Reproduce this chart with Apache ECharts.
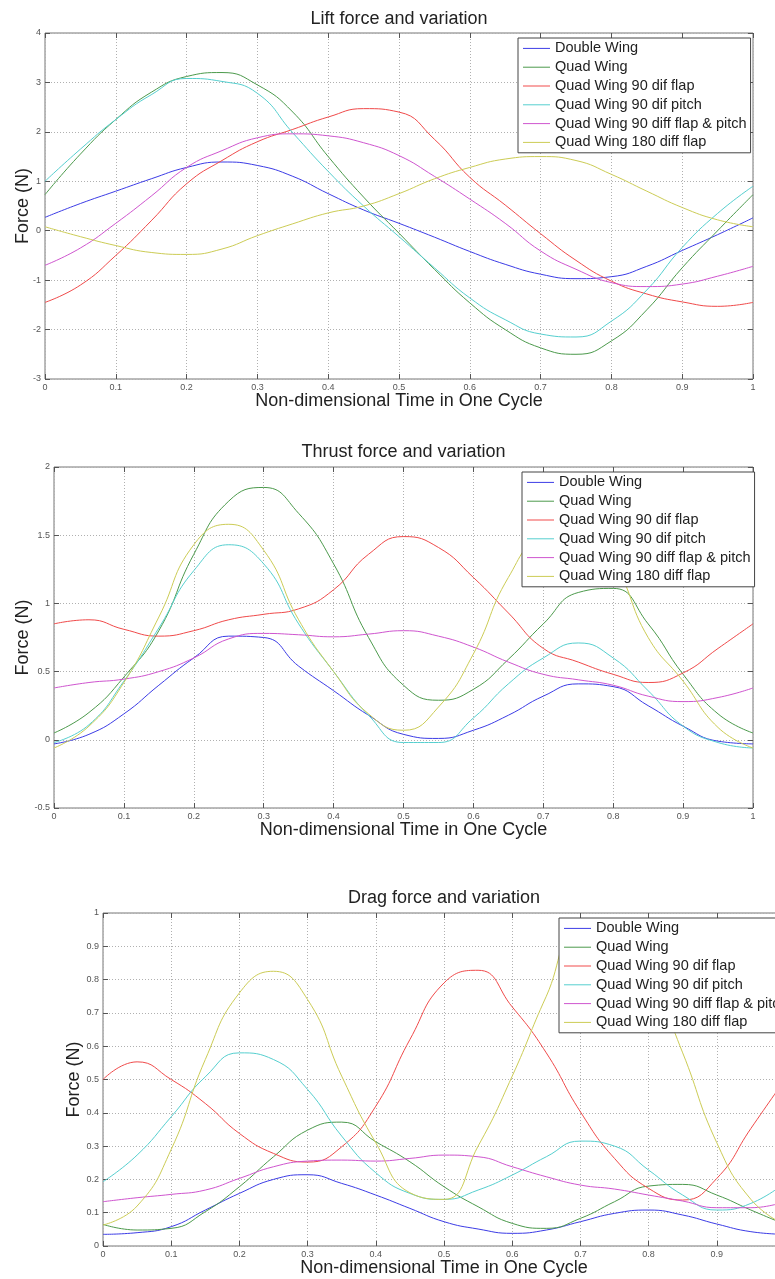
<!DOCTYPE html>
<html><head><meta charset="utf-8">
<script src="https://cdn.jsdelivr.net/npm/echarts@6/dist/echarts.min.js"></script>
<style>html,body{margin:0;padding:0;background:#fff;overflow:hidden}#c{width:800px;height:1279px}</style>
</head><body><div id="c"></div>
<script>
// ---------- data ----------
const times = [0,0.05,0.1,0.15,0.2,0.25,0.3,0.35,0.4,0.45,0.5,0.55,0.6,0.65,0.7,0.75,0.8,0.85,0.9,0.95,1];
const seriesNames = ['Double Wing','Quad Wing','Quad Wing 90 dif flap','Quad Wing 90 dif pitch','Quad Wing 90 diff flap & pitch','Quad Wing 180 diff flap'];
const xTicks = [0,0.1,0.2,0.3,0.4,0.5,0.6,0.7,0.8,0.9,1];
const liftTicks = [-3,-2,-1,0,1,2,3,4];
const thrustTicks = [-0.5,0,0.5,1,1.5,2];
const dragTicks = [0,0.1,0.2,0.3,0.4,0.5,0.6,0.7,0.8,0.9,1];
const titles = ['Lift force and variation','Thrust force and variation','Drag force and variation'];
const xName = 'Non-dimensional Time in One Cycle';
const yName = 'Force (N)';

// Lift
const liftDouble  = [0.27,0.55,0.8,1.05,1.28,1.39,1.32,1.1,0.75,0.42,0.15,-0.13,-0.42,-0.68,-0.88,-0.97,-0.93,-0.72,-0.4,-0.08,0.26];
const liftQuad    = [0.73,1.55,2.25,2.8,3.12,3.2,2.95,2.4,1.5,0.68,-0.05,-0.78,-1.46,-2.0,-2.37,-2.5,-2.23,-1.6,-0.75,0.0,0.73];
const liftFlap    = [-1.45,-1.1,-0.5,0.2,0.95,1.42,1.8,2.05,2.3,2.47,2.4,1.85,1.08,0.52,-0.06,-0.6,-1.02,-1.28,-1.44,-1.53,-1.45];
const liftPitch   = [1.0,1.65,2.25,2.75,3.08,3.02,2.78,1.98,1.2,0.5,-0.12,-0.75,-1.36,-1.8,-2.09,-2.15,-1.83,-1.2,-0.34,0.35,0.9];
const liftFP      = [-0.7,-0.35,0.15,0.7,1.28,1.62,1.88,1.96,1.92,1.78,1.52,1.1,0.64,0.15,-0.41,-0.78,-1.05,-1.13,-1.08,-0.92,-0.72];
const lift180     = [0.08,-0.12,-0.3,-0.44,-0.48,-0.37,-0.1,0.14,0.36,0.5,0.75,1.05,1.28,1.45,1.5,1.42,1.14,0.8,0.47,0.22,0.08];

// Thrust
const thrustDouble = [-0.03,0.04,0.19,0.4,0.6,0.76,0.75,0.54,0.36,0.18,0.04,0.01,0.07,0.18,0.32,0.41,0.39,0.25,0.1,-0.01,-0.03];
const thrustQuad   = [0.05,0.2,0.46,0.8,1.36,1.75,1.85,1.66,1.29,0.75,0.4,0.29,0.37,0.59,0.85,1.08,1.11,0.85,0.48,0.19,0.05];
const thrustFlap   = [0.85,0.88,0.81,0.76,0.8,0.88,0.92,0.96,1.1,1.36,1.49,1.41,1.19,0.93,0.67,0.57,0.48,0.42,0.49,0.67,0.85];
const thrustPitch  = [-0.02,0.11,0.43,0.82,1.24,1.43,1.29,0.85,0.5,0.18,-0.02,-0.02,0.16,0.41,0.6,0.71,0.6,0.36,0.1,-0.02,-0.06];
const thrustFP     = [0.38,0.42,0.445,0.5,0.6,0.74,0.78,0.77,0.755,0.775,0.8,0.76,0.68,0.57,0.48,0.44,0.4,0.32,0.28,0.31,0.38];
const thrust180    = [-0.06,0.1,0.42,0.9,1.43,1.58,1.39,0.88,0.5,0.19,0.07,0.24,0.63,1.19,1.5,1.55,1.3,0.75,0.43,0.09,-0.06];

// Drag
const dragDouble = [0.035,0.04,0.058,0.108,0.158,0.2,0.214,0.188,0.153,0.113,0.073,0.051,0.038,0.048,0.073,0.098,0.108,0.093,0.066,0.043,0.035];
const dragQuad   = [0.065,0.048,0.053,0.103,0.178,0.268,0.348,0.372,0.313,0.253,0.178,0.118,0.068,0.053,0.083,0.133,0.18,0.185,0.153,0.108,0.065];
const dragFlap   = [0.5,0.553,0.5,0.428,0.338,0.278,0.252,0.298,0.42,0.62,0.79,0.828,0.718,0.58,0.403,0.263,0.173,0.138,0.203,0.353,0.5];
const dragPitch  = [0.193,0.273,0.388,0.508,0.58,0.56,0.47,0.33,0.22,0.158,0.14,0.168,0.213,0.268,0.315,0.3,0.228,0.153,0.108,0.128,0.19];
const dragFP     = [0.133,0.145,0.155,0.168,0.203,0.238,0.255,0.258,0.255,0.263,0.273,0.268,0.238,0.208,0.183,0.171,0.153,0.135,0.115,0.115,0.133];
const drag180    = [0.063,0.12,0.29,0.56,0.76,0.825,0.74,0.51,0.31,0.16,0.14,0.3,0.51,0.75,0.96,0.97,0.82,0.58,0.31,0.14,0.063];

// ---------- style ----------
const colors = ['#3c3ce6','#4c9a4c','#f04a4a','#55cfcf','#cf55cf','#cccc55'];
const font = '"Liberation Sans", Arial, Helvetica, sans-serif';

const panels = [
  {title: titles[0], grid:{left:45, top:33, width:708, height:346}, titleTop:10, legend:{left:518, top:38}, yTicks: liftTicks, yGap:13,
   values:[liftDouble, liftQuad, liftFlap, liftPitch, liftFP, lift180]},
  {title: titles[1], grid:{left:54, top:467, width:699, height:341}, titleTop:443, legend:{left:522, top:472}, yTicks: thrustTicks, yGap:22,
   values:[thrustDouble, thrustQuad, thrustFlap, thrustPitch, thrustFP, thrust180]},
  {title: titles[2], grid:{left:103, top:913, width:682, height:333}, titleTop:889, legend:{left:559, top:918}, yTicks: dragTicks, yGap:20,
   values:[dragDouble, dragQuad, dragFlap, dragPitch, dragFP, drag180]}
];

const fmt = v => String(+(+v).toFixed(2));
const tickLabel = {color:'#555', fontSize:9, fontFamily:font, formatter: fmt};
const tickStyle = {inside:true, length:5, lineStyle:{color:'#555', width:1}};
const gridLine = {show:true, lineStyle:{type:[1,2], color:'#b0b0b0', width:1}};
const noLine = {show:false, onZero:false};

const option = {animation:false, backgroundColor:'#fff', title:[], grid:[], xAxis:[], yAxis:[], legend:[], series:[]};

panels.forEach((p, i) => {
  option.title.push({text:p.title, left:p.grid.left + p.grid.width/2, top:p.titleTop, textAlign:'center', padding:0,
    textStyle:{fontFamily:font, fontSize:18, fontWeight:'normal', color:'#222'}});
  option.grid.push(Object.assign({show:true, borderColor:'#777', borderWidth:1, backgroundColor:'#fff'}, p.grid));
  const xb = {gridIndex:i, type:'value', min:xTicks[0], max:xTicks[xTicks.length-1], interval:xTicks[1]-xTicks[0]};
  const yt = p.yTicks;
  const yb = {gridIndex:i, type:'value', min:yt[0], max:yt[yt.length-1], interval:yt[1]-yt[0]};
  option.xAxis.push(Object.assign({}, xb, {position:'bottom', name:xName, nameLocation:'middle', nameGap:13, nameMoveOverlap:false,
    nameTextStyle:{fontFamily:font, fontSize:18, color:'#222'},
    axisLine:noLine, axisTick:tickStyle, axisLabel:Object.assign({margin:4}, tickLabel), splitLine:gridLine}));
  option.xAxis.push(Object.assign({}, xb, {position:'top', axisLine:noLine, axisTick:tickStyle, axisLabel:{show:false}, splitLine:{show:false}}));
  option.yAxis.push(Object.assign({}, yb, {position:'left', name:yName, nameLocation:'middle', nameGap:p.yGap, nameMoveOverlap:false,
    nameTextStyle:{fontFamily:font, fontSize:18, color:'#222'},
    axisLine:noLine, axisTick:tickStyle, axisLabel:Object.assign({margin:4}, tickLabel), splitLine:gridLine}));
  option.yAxis.push(Object.assign({}, yb, {position:'right', axisLine:noLine, axisTick:tickStyle, axisLabel:{show:false}, splitLine:{show:false}}));
  option.legend.push({orient:'vertical', left:p.legend.left, top:p.legend.top, data:seriesNames, icon:'rect',
    itemWidth:27, itemHeight:1, itemGap:0, padding:[1,4,1,5], borderColor:'#444', borderWidth:1, backgroundColor:'#fff',
    selectedMode:false, textStyle:{fontFamily:font, fontSize:14.5, color:'#222', lineHeight:18.8}});
  seriesNames.forEach((n, k) => {
    option.series.push({name:n, type:'line', xAxisIndex:2*i, yAxisIndex:2*i,
      data: times.map((t, j) => [t, p.values[k][j]]),
      smooth:true, symbol:'none', lineStyle:{width:1, color:colors[k]}, itemStyle:{color:colors[k]}, clip:true});
  });
});

const chart = echarts.init(document.getElementById('c'), null, {renderer:'canvas'});
chart.setOption(option);
</script>
</body></html>
